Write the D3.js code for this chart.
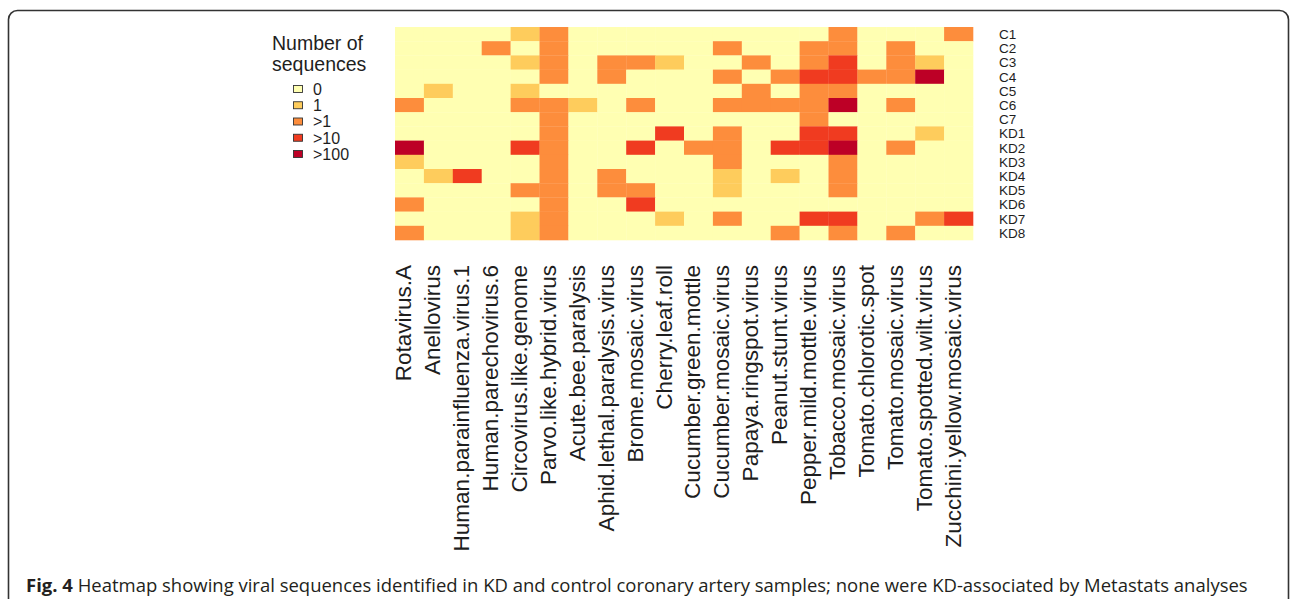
<!DOCTYPE html>
<html>
<head>
<meta charset="utf-8">
<script src="https://cdn.jsdelivr.net/npm/d3@7"></script>
<style>
  html, body { margin: 0; padding: 0; background: #fff; }
  svg { display: block; }
</style>
</head>
<body>
<svg id="chart" width="1290" height="599"></svg>
<script>
// viruses (columns) and samples (rows)
const viruses = ['Rotavirus.A', 'Anellovirus', 'Human.parainfluenza.virus.1', 'Human.parechovirus.6',
  'Circovirus.like.genome', 'Parvo.like.hybrid.virus', 'Acute.bee.paralysis', 'Aphid.lethal.paralysis.virus',
  'Brome.mosaic.virus', 'Cherry.leaf.roll', 'Cucumber.green.mottle', 'Cucumber.mosaic.virus',
  'Papaya.ringspot.virus', 'Peanut.stunt.virus', 'Pepper.mild.mottle.virus', 'Tobacco.mosaic.virus',
  'Tomato.chlorotic.spot', 'Tomato.mosaic.virus', 'Tomato.spotted.wilt.virus', 'Zucchini.yellow.mosaic.virus'];

const samples = ['C1', 'C2', 'C3', 'C4', 'C5', 'C6', 'C7', 'KD1', 'KD2', 'KD3', 'KD4', 'KD5', 'KD6', 'KD7', 'KD8'];

const levels = ['0', '1', '>1', '>10', '>100'];
const levelColors = ['#ffffb2', '#fecc5c', '#fd8d3c', '#f03b20', '#bd0026'];

// level index (into levels) for each sample, one entry per virus
const C1  = [0,0,0,0,1,2,0,0,0,0,0,0,0,0,0,2,0,0,0,2];
const C2  = [0,0,0,2,0,2,0,0,0,0,0,2,0,0,2,2,0,2,0,0];
const C3  = [0,0,0,0,1,2,0,2,2,1,0,0,2,0,2,3,0,2,1,0];
const C4  = [0,0,0,0,0,2,0,2,0,0,0,2,0,2,3,3,2,2,4,0];
const C5  = [0,1,0,0,1,0,0,0,0,0,0,0,2,0,2,2,0,0,0,0];
const C6  = [2,0,0,0,2,2,1,0,2,0,0,2,2,2,2,4,0,2,0,0];
const C7  = [0,0,0,0,0,2,0,0,0,0,0,0,0,0,2,0,0,0,0,0];
const KD1 = [0,0,0,0,0,2,0,0,0,3,0,2,0,0,3,3,0,0,1,0];
const KD2 = [4,0,0,0,3,2,0,0,3,0,2,2,0,3,3,4,0,2,0,0];
const KD3 = [1,0,0,0,0,2,0,0,0,0,0,2,0,0,0,2,0,0,0,0];
const KD4 = [0,1,3,0,0,2,0,2,0,0,0,1,0,1,0,2,0,0,0,0];
const KD5 = [0,0,0,0,2,2,0,2,2,0,0,1,0,0,0,2,0,0,0,0];
const KD6 = [2,0,0,0,0,2,0,0,3,0,0,0,0,0,0,0,0,0,0,0];
const KD7 = [0,0,0,0,1,2,0,0,0,1,0,2,0,0,3,3,0,0,2,3];
const KD8 = [2,0,0,0,1,2,0,0,0,0,0,0,0,2,0,2,0,2,0,0];

const matrix = [C1, C2, C3, C4, C5, C6, C7, KD1, KD2, KD3, KD4, KD5, KD6, KD7, KD8];

const captionBold = 'Fig. 4';
const captionText = ' Heatmap showing viral sequences identified in KD and control coronary artery samples; none were KD-associated by Metastats analyses';

const svg = d3.select('#chart');

// panel frame, bottom runs off the page
svg.append('rect')
  .attr('x', 8.5).attr('y', 10.5)
  .attr('width', 1280).attr('height', 640)
  .attr('rx', 9).attr('ry', 9)
  .attr('fill', 'none')
  .attr('stroke', '#333')
  .attr('stroke-width', 1.6);

const hm = { left: 395, right: 973, top: 27, bottom: 240 };

const x = d3.scaleBand().domain(viruses).range([hm.left, hm.right]);
const y = d3.scaleBand().domain(samples).range([hm.top, hm.bottom]);
const color = d3.scaleOrdinal().domain(d3.range(levels.length)).range(levelColors);

const cells = [];
matrix.forEach((row, i) => {
  row.forEach((v, j) => cells.push({ sample: samples[i], virus: viruses[j], level: v }));
});

svg.append('g')
  .selectAll('rect')
  .data(cells)
  .join('rect')
  .attr('x', d => x(d.virus))
  .attr('y', d => y(d.sample))
  .attr('width', x.bandwidth() + 0.3)
  .attr('height', y.bandwidth() + 0.3)
  .attr('fill', d => color(d.level));

const labelFont = '"Liberation Sans", Arial, Helvetica, sans-serif';

// column labels
const xAxis = svg.append('g')
  .attr('transform', `translate(0,${hm.bottom})`)
  .call(d3.axisBottom(x).tickSize(0));
xAxis.select('.domain').remove();
xAxis.selectAll('text')
  .attr('transform', 'rotate(-90)')
  .attr('text-anchor', 'end')
  .attr('x', -25)
  .attr('y', 2)
  .attr('dy', 0)
  .attr('fill', '#1e1e1e')
  .style('font-family', labelFont)
  .style('font-size', '22.5px');

// row labels
const yAxis = svg.append('g')
  .attr('transform', `translate(${hm.right},0)`)
  .call(d3.axisRight(y).tickSize(0).tickPadding(26));
yAxis.select('.domain').remove();
yAxis.selectAll('text')
  .attr('dy', '0.36em')
  .attr('fill', '#1e1e1e')
  .style('font-family', labelFont)
  .style('font-size', '13.5px');

// legend
const legend = svg.append('g')
  .style('font-family', labelFont)
  .attr('fill', '#1e1e1e');

legend.append('text').attr('x', 272).attr('y', 50)
  .style('font-size', '19.5px').text('Number of');
legend.append('text').attr('x', 272).attr('y', 71)
  .style('font-size', '19.5px').text('sequences');

const ly = d3.scalePoint().domain(levels).range([89, 154]);

const items = legend.selectAll('g.item')
  .data(levels)
  .join('g')
  .attr('class', 'item')
  .attr('transform', d => `translate(0,${ly(d)})`);

items.append('rect')
  .attr('x', 293.5).attr('y', -3.5)
  .attr('width', 9).attr('height', 7)
  .attr('fill', (d, i) => color(i))
  .attr('stroke', '#333')
  .attr('stroke-width', 0.9);

items.append('text')
  .attr('x', 313)
  .attr('dy', '0.36em')
  .style('font-size', '16px')
  .text(d => d);

// caption
const caption = svg.append('text')
  .attr('x', 26).attr('y', 592)
  .attr('fill', '#231f20')
  .style('font-family', '"Open Sans", "Noto Sans", sans-serif')
  .style('font-size', '17px');
caption.append('tspan').style('font-weight', 'bold').text(captionBold);
caption.append('tspan').text(captionText);

// scale caption font so it spans the same width as the original
const capWidth = caption.node().getComputedTextLength();
caption.style('font-size', (17 * 1222 / capWidth).toFixed(2) + 'px');
</script>
</body>
</html>
